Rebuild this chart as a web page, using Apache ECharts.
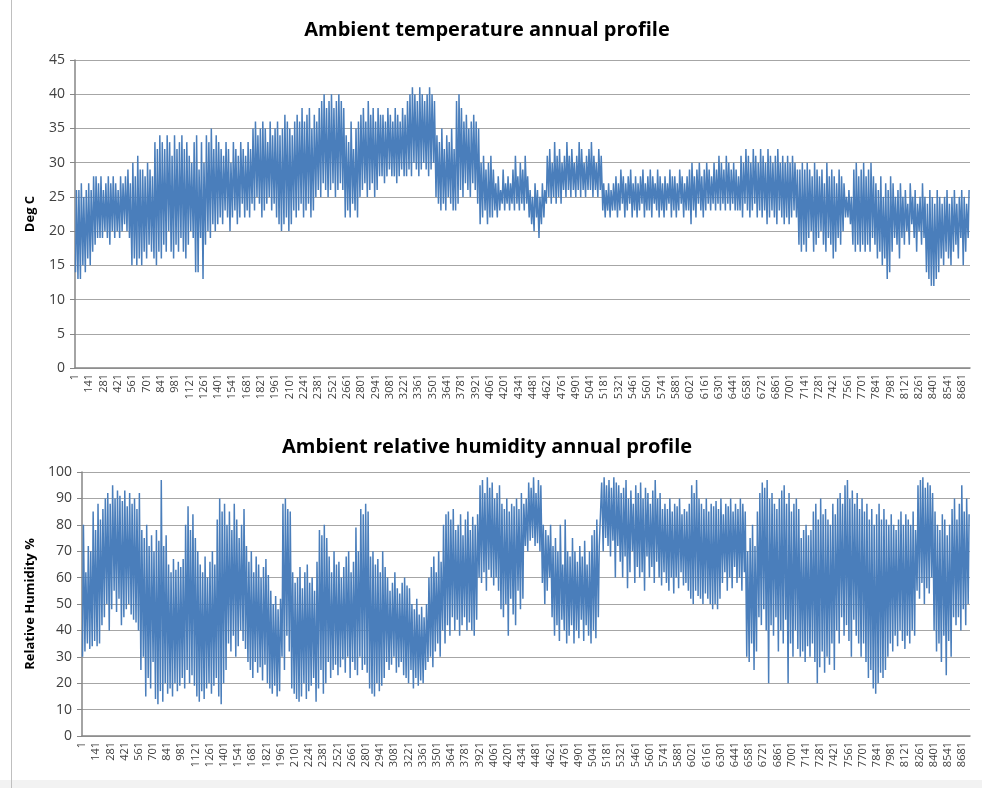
<!DOCTYPE html>
<html>
<head>
<meta charset="utf-8">
<script src="https://cdn.jsdelivr.net/npm/echarts@6/dist/echarts.min.js"></script>
<style>
html,body{margin:0;padding:0;background:#fff;}
#c{width:982px;height:788px;}
</style>
</head>
<body>
<div id="c"></div>
<script>
// Hour-of-year categories (1..8760)
const HOURS = 8760;
const hourLabels = Array.from({length: HOURS}, (_, i) => String(i + 1));

// Daily maximum / minimum ambient temperature (deg C)
const tempHigh = [
26,26,27,25,26,27,26,28,28,27, 28,26,27,28,27,28,27,26,28,27,
28,29,27,30,28,31,29,29,28,30, 29,28,33,32,34,33,32,34,33,31,
34,32,33,34,32,33,31,30,33,34, 29,33,30,34,33,35,32,34,33,32,
31,33,32,30,33,32,31,33,32,31, 33,32,35,36,34,35,36,35,33,36,
34,35,36,34,35,37,36,35,34,36, 37,36,38,36,37,38,35,37,36,38,
39,40,38,39,40,38,39,40,39,38, 34,33,36,32,35,36,37,38,36,39,
37,38,36,38,37,37,36,38,37,36, 38,37,36,38,37,39,40,41,40,39,
41,40,39,40,41,40,39,34,33,35, 32,34,33,35,32,39,40,38,36,37,
35,36,37,36,35,30,31,29,30,31, 29,27,28,26,29,27,28,27,29,31,
28,30,29,31,28,26,25,27,26,25, 27,26,31,32,30,33,31,32,30,31,
33,31,32,30,31,33,32,30,31,32, 33,31,30,32,31,27,26,27,26,27,
28,27,29,28,27,28,29,27,28,27, 28,29,27,28,29,28,27,29,28,27,
28,27,29,28,28,27,29,28,27,28, 29,30,28,29,30,28,29,30,29,28,
30,29,31,30,29,31,30,29,30,29, 28,31,30,32,31,30,32,31,30,32,
31,30,32,31,30,31,32,30,31,30, 31,30,31,30,29,29,30,29,30,29,
28,30,29,28,29,27,30,28,29,28, 27,29,28,27,25,26,25,29,30,28,
29,30,28,29,30,28,27,26,28,25, 27,26,28,27,25,26,27,25,26,24,
27,25,26,24,25,27,25,24,26,25, 24,26,25,24,25,26,24,25,26,24,
25,26,25,24,26
];
const tempLow = [
14,13,13,15,14,16,15,17,18,19, 19,19,20,19,18,20,19,20,19,20,
21,20,19,15,16,15,16,15,17,16, 18,17,16,15,17,16,18,17,20,17,
16,18,17,19,17,16,18,20,19,14, 14,19,13,18,20,19,21,20,21,22,
21,23,22,20,22,23,21,22,24,22, 23,22,24,23,25,24,22,23,24,25,
23,24,22,21,20,21,22,20,21,23, 22,23,24,22,23,24,22,23,25,26,
25,27,26,25,26,27,25,26,27,26, 22,23,22,24,23,22,25,26,27,25,
26,27,25,26,28,28,27,28,29,28, 28,27,28,29,28,28,29,28,30,29,
28,29,30,29,28,29,30,25,24,23, 24,23,25,24,23,23,24,26,25,27,
26,25,27,26,24,21,22,23,21,22, 22,23,22,23,24,23,24,23,24,23,
24,23,24,23,24,22,21,20,22,19, 21,22,24,25,24,25,24,25,24,26,
25,26,25,26,25,26,25,26,25,26, 26,25,26,25,26,23,22,23,22,23,
23,22,23,24,22,23,24,22,23,22, 23,24,22,23,23,22,24,23,22,23,
22,23,24,22,23,22,23,24,22,23, 23,21,23,22,24,23,22,23,24,23,
24,23,24,23,24,23,24,23,24,23, 23,23,22,24,23,22,23,24,22,23,
22,23,21,22,23,22,21,23,22,21, 22,21,22,23,22,18,17,18,17,19,
20,17,18,19,20,18,17,19,18,16, 17,19,18,20,22,22,21,18,17,18,
17,18,17,18,17,19,18,16,17,15, 16,13,14,17,19,18,16,19,18,20,
18,21,19,17,20,18,19,14,13,12, 12,13,14,16,15,17,16,15,17,18,
16,19,15,17,19
];

// Daily maximum / minimum relative humidity (%)
const humHigh = [
80,62,72,70,85,78,88,82,86,90, 92,88,95,90,93,91,89,93,87,92,
88,90,86,92,78,75,80,72,76,70, 78,74,97,72,76,65,62,67,63,66,
64,67,80,87,78,84,75,70,65,62, 68,60,66,70,65,82,90,85,88,80,
85,78,88,82,75,80,86,72,66,70, 62,68,65,60,64,67,61,55,50,53,
48,52,88,90,86,85,62,58,60,64, 56,62,65,58,60,55,66,78,76,80,
75,68,62,70,65,66,60,64,68,70, 62,66,79,70,86,84,88,85,68,70,
65,67,62,70,64,60,55,58,62,56, 54,58,60,57,56,50,48,52,46,49,
45,50,60,64,68,62,70,66,80,84, 85,82,86,78,80,84,76,82,85,78,
83,80,84,95,97,92,98,94,96,90, 92,95,88,86,90,85,88,87,90,86,
92,88,90,96,94,98,92,97,95,80, 78,76,80,72,75,70,80,65,82,70,
68,75,70,66,72,68,74,65,70,76, 78,82,72,96,98,95,97,94,98,96,
95,92,94,97,90,93,88,95,92,96, 90,94,92,88,93,97,90,92,86,88,
86,90,85,88,87,90,84,86,85,88, 95,92,97,90,88,86,90,85,88,87,
89,86,90,84,88,87,90,85,88,86, 90,88,85,70,75,80,72,85,92,96,
94,97,90,92,88,86,90,93,95,88, 92,85,88,90,86,75,78,80,76,78,
85,88,82,90,84,86,82,80,88,84, 90,92,88,95,97,90,93,88,92,86,
90,85,88,82,86,80,84,88,82,86, 82,80,84,80,78,82,85,80,84,82,
80,85,78,95,97,98,94,96,95,92, 85,80,78,84,82,76,80,86,90,82,
88,95,85,90,84
];
const humLow = [
30,32,35,33,34,36,34,35,42,45, 50,40,48,55,47,52,42,45,48,50,
46,44,43,40,25,30,15,22,18,28, 14,12,17,13,20,16,18,15,20,17,
19,22,18,25,20,23,19,15,13,17, 14,18,20,16,19,22,15,12,20,25,
35,32,38,30,34,40,36,33,28,25, 22,28,24,26,21,27,20,18,16,19,
15,17,30,25,38,32,18,16,14,13, 15,20,14,17,19,22,13,18,25,16,
20,28,22,25,27,23,26,29,24,30, 22,28,25,23,30,25,27,24,18,16,
15,20,17,19,22,28,25,27,30,24, 26,28,23,22,20,25,18,22,19,21,
20,25,28,30,26,32,35,30,40,35, 42,38,45,40,44,38,42,45,40,43,
40,38,44,60,58,62,55,63,60,57, 60,55,48,45,50,38,52,46,42,55,
48,52,72,70,74,75,72,73,70,58, 50,55,60,45,38,42,36,44,40,35,
38,42,35,40,37,44,36,42,38,35, 40,37,45,72,70,75,72,68,74,60,
72,66,60,68,56,62,70,58,64,60, 62,55,68,60,64,58,66,60,57,62,
58,55,60,54,60,56,62,57,58,55, 52,50,55,53,52,50,54,52,50,48,
50,48,52,58,62,55,60,56,64,58, 60,55,62,30,28,35,25,32,45,42,
48,40,20,42,38,45,32,40,35,44, 20,35,30,40,33,30,32,28,34,30,
35,28,20,26,32,24,30,27,35,25, 40,35,45,38,42,36,30,44,38,35,
30,35,28,22,25,18,16,20,24,22, 25,30,35,32,38,34,40,36,33,38,
35,40,38,55,52,58,50,56,54,60, 40,32,35,28,38,23,36,30,45,42,
45,40,48,42,50
];

// Build [hourIndex, value] pairs: daily minimum early morning, maximum mid-afternoon
function dailyPoints(lows, highs) {
  const out = [];
  for (let d = 0; d < lows.length; d++) {
    out.push([d * 24 + 5, lows[d]]);
    out.push([d * 24 + 14, highs[d]]);
  }
  return out;
}

const FONT = "'Open Sans', 'Liberation Sans', sans-serif";
const LINE_COLOR = '#4a7ebb';
const GRID_COLOR = '#a6a6a6';
const AXIS_COLOR = '#868686';
const LABEL_COLOR = '#404040';

function xAxisCfg(gridIndex) {
  return {
    type: 'category', gridIndex, data: hourLabels, boundaryGap: false,
    axisLine: {show: true, lineStyle: {color: AXIS_COLOR, width: 1.5}},
    axisTick: {show: false},
    axisLabel: {interval: 139, rotate: 90, fontSize: 11, color: LABEL_COLOR, fontFamily: FONT, margin: 6},
    splitLine: {show: false}
  };
}
function yAxisCfg(gridIndex, max, interval) {
  return {
    type: 'value', gridIndex, min: 0, max, interval,
    axisLine: {show: true, lineStyle: {color: AXIS_COLOR, width: 1.5}},
    axisTick: {show: true, length: 5, lineStyle: {color: AXIS_COLOR}},
    axisLabel: {fontSize: 14, color: LABEL_COLOR, fontFamily: FONT, margin: 10},
    splitLine: {show: true, lineStyle: {color: GRID_COLOR, width: 1.2}}
  };
}

const chart = echarts.init(document.getElementById('c'), null, {renderer: 'canvas'});
chart.setOption({
  animation: false,
  backgroundColor: '#ffffff',
  grid: [
    {left: 75, top: 60, right: 12, height: 308},
    {left: 82, top: 472, right: 12, height: 264}
  ],
  xAxis: [xAxisCfg(0), xAxisCfg(1)],
  yAxis: [yAxisCfg(0, 45, 5), yAxisCfg(1, 100, 10)],
  series: [
    {type: 'line', xAxisIndex: 0, yAxisIndex: 0, data: dailyPoints(tempLow, tempHigh),
     showSymbol: false, symbol: 'none', sampling: null,
     lineStyle: {color: LINE_COLOR, width: 1.5}},
    {type: 'line', xAxisIndex: 1, yAxisIndex: 1, data: dailyPoints(humLow, humHigh),
     showSymbol: false, symbol: 'none', sampling: null,
     lineStyle: {color: LINE_COLOR, width: 1.5}}
  ],
  graphic: [
    {type: 'rect', left: 0, top: 780, shape: {width: 982, height: 8}, style: {fill: '#f2f2f2'}, silent: true},
    {type: 'line', shape: {x1: 11.5, y1: 0, x2: 11.5, y2: 788}, style: {stroke: '#bfbfbf', lineWidth: 1}, silent: true},
    {type: 'text', x: 487, y: 30, style: {text: 'Ambient temperature annual profile', font: "bold 20px " + FONT, fill: '#000', align: 'center', verticalAlign: 'middle'}},
    {type: 'text', x: 487, y: 447, style: {text: 'Ambient relative humidity annual profile', font: "bold 20px " + FONT, fill: '#000', align: 'center', verticalAlign: 'middle'}},
    {type: 'text', x: 30, y: 214, rotation: Math.PI / 2, style: {text: 'Deg C', font: "bold 13px " + FONT, fill: '#000', align: 'center', verticalAlign: 'middle'}},
    {type: 'text', x: 30, y: 604, rotation: Math.PI / 2, style: {text: 'Relative Humidity %', font: "bold 13px " + FONT, fill: '#000', align: 'center', verticalAlign: 'middle'}}
  ]
});
</script>
</body>
</html>
